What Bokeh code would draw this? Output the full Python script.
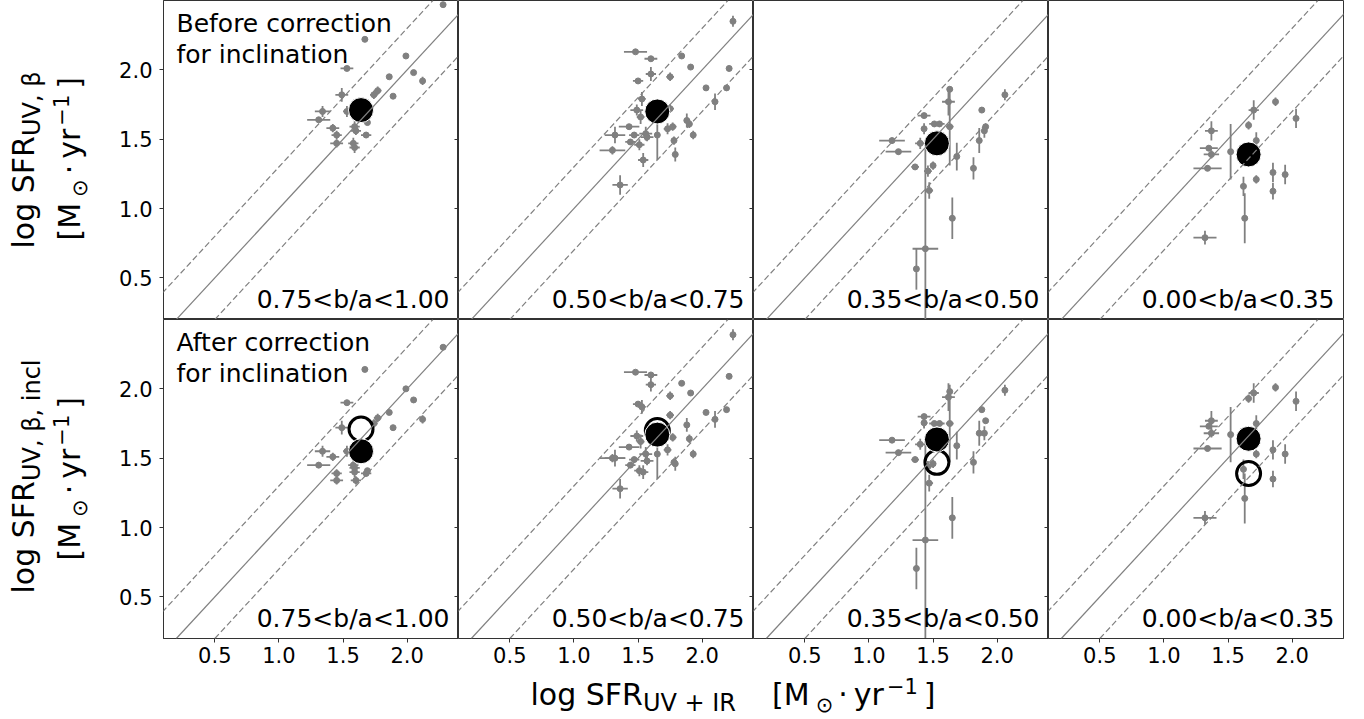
import math
from bokeh.plotting import figure
from bokeh.layouts import column, row
from bokeh.models import (ColumnDataSource, Slope, Label, FixedTicker, LinearAxis, Range1d,
                          PrintfTickFormatter)
from bokeh.embed import file_html
from bokeh.resources import INLINE

# ---------------- data ----------------
bin_labels = ["0.75<b/a<1.00", "0.50<b/a<0.75", "0.35<b/a<0.50", "0.00<b/a<0.35"]
x_ticks = [0.5, 1.0, 1.5, 2.0]
y_ticks = [0.5, 1.0, 1.5, 2.0]
scatter_offset = 0.3

# bin 1 : 0.75 < b/a < 1.00
x_b1 = [2.28, 1.67, 1.99, 1.53, 2.05, 1.86, 2.12, 1.49, 1.77, 1.74, 1.89, 1.34, 1.31, 1.53, 1.69, 1.42, 1.45, 1.59, 1.60, 1.68, 1.45, 1.58, 1.59]
yb_b1 = [2.47, 2.22, 2.10, 2.01, 1.98, 1.95, 1.92, 1.82, 1.85, 1.82, 1.81, 1.70, 1.64, 1.70, 1.62, 1.58, 1.53, 1.59, 1.56, 1.53, 1.47, 1.47, 1.44]
ya_b1 = [2.30, 2.14, 2.00, 1.90, 1.92, 1.83, 1.78, 1.72, 1.79, 1.75, 1.72, 1.55, 1.45, 1.55, 1.41, 1.51, 1.39, 1.43, 1.34, 1.39, 1.34, 1.45, 1.40]
xe_b1 = [0.01, 0.01, 0.01, 0.05, 0.01, 0.01, 0.02, 0.05, 0.03, 0.03, 0.01, 0.06, 0.09, 0.03, 0.02, 0.05, 0.04, 0.04, 0.04, 0.04, 0.05, 0.04, 0.04]
ye_b1 = [0.01, 0.01, 0.01, 0.01, 0.01, 0.01, 0.03, 0.05, 0.03, 0.03, 0.01, 0.04, 0.02, 0.04, 0.02, 0.03, 0.03, 0.04, 0.03, 0.02, 0.03, 0.04, 0.04]

# bin 2 : 0.50 < b/a < 0.75
x_b2 = [2.24, 1.48, 1.60, 1.84, 1.91, 1.60, 1.75, 1.50, 2.03, 2.21, 2.19, 2.10, 1.53, 1.49, 1.52, 1.75, 1.88, 1.90, 1.93, 1.43, 1.73, 1.77, 1.32, 1.47, 1.56, 1.44, 1.51, 1.57, 1.65, 1.78, 1.30, 1.54, 1.79, 1.36]
yb_b2 = [2.35, 2.13, 2.08, 2.10, 2.02, 1.97, 1.95, 1.92, 1.87, 2.01, 1.87, 1.77, 1.79, 1.71, 1.66, 1.72, 1.635, 1.61, 1.53, 1.59, 1.575, 1.59, 1.53, 1.53, 1.54, 1.48, 1.46, 1.515, 1.53, 1.49, 1.42, 1.35, 1.39, 1.17]
ya_b2 = [2.39, 2.12, 2.10, 2.04, 1.97, 2.03, 1.95, 1.89, 1.83, 2.09, 1.85, 1.78, 1.87, 1.66, 1.62, 1.81, 1.74, 1.64, 1.53, 1.58, 1.56, 1.65, 1.50, 1.49, 1.53, 1.45, 1.41, 1.48, 1.53, 1.47, 1.50, 1.40, 1.46, 1.28]
xe_b2 = [0.01, 0.09, 0.05, 0.01, 0.01, 0.04, 0.03, 0.04, 0.01, 0.01, 0.01, 0.01, 0.03, 0.05, 0.03, 0.03, 0.02, 0.02, 0.01, 0.08, 0.03, 0.03, 0.08, 0.04, 0.05, 0.04, 0.04, 0.05, 0.01, 0.02, 0.10, 0.04, 0.02, 0.06]
ye_b2 = [0.04, 0.01, 0.01, 0.01, 0.01, 0.05, 0.03, 0.01, 0.01, 0.02, 0.01, 0.06, 0.05, 0.04, 0.05, 0.03, 0.05, 0.03, 0.03, 0.01, 0.04, 0.03, 0.06, 0.02, 0.05, 0.02, 0.04, 0.03, 0.18, 0.03, 0.03, 0.05, 0.05, 0.07]

# bin 3 : 0.35 < b/a < 0.50
x_b3 = [1.18, 1.23, 1.63, 1.62, 2.06, 1.88, 1.43, 1.51, 1.55, 1.43, 1.63, 1.91, 1.90, 1.86, 1.40, 1.685, 1.50, 1.36, 1.46, 1.815, 1.47, 1.65, 1.44, 1.37]
yb_b3 = [1.49, 1.41, 1.86, 1.77, 1.82, 1.71, 1.67, 1.61, 1.61, 1.575, 1.59, 1.59, 1.56, 1.49, 1.47, 1.375, 1.31, 1.30, 1.27, 1.29, 1.13, 0.93, 0.71, 0.565]
ya_b3 = [1.63, 1.54, 1.98, 1.94, 1.99, 1.85, 1.80, 1.75, 1.75, 1.755, 1.75, 1.77, 1.68, 1.68, 1.60, 1.59, 1.46, 1.49, 1.44, 1.47, 1.32, 1.07, 0.91, 0.705]
xe_b3 = [0.10, 0.10, 0.02, 0.05, 0.01, 0.01, 0.05, 0.04, 0.04, 0.02, 0.03, 0.01, 0.01, 0.01, 0.04, 0.01, 0.02, 0.03, 0.03, 0.01, 0.03, 0.02, 0.10, 0.01]
ye_b3 = [0.02, 0.02, 0.02, 0.10, 0.04, 0.02, 0.01, 0.02, 0.02, 0.04, 0.28, 0.02, 0.05, 0.09, 0.04, 0.10, 0.03, 0.02, 0.04, 0.08, 0.06, 0.15, 0.72, 0.15]

# bin 4 : 0.00 < b/a < 0.35
x_b4 = [1.87, 2.03, 1.70, 1.66, 1.72, 1.37, 1.35, 1.37, 1.52, 1.34, 1.62, 1.72, 1.85, 1.945, 1.85, 1.63, 1.32]
yb_b4 = [1.77, 1.65, 1.71, 1.60, 1.49, 1.56, 1.435, 1.39, 1.41, 1.29, 1.16, 1.21, 1.26, 1.245, 1.125, 0.93, 0.79]
ya_b4 = [2.01, 1.91, 1.97, 1.93, 1.75, 1.77, 1.73, 1.68, 1.67, 1.57, 1.42, 1.53, 1.56, 1.53, 1.35, 1.21, 1.07]
xe_b4 = [0.01, 0.01, 0.04, 0.01, 0.01, 0.05, 0.07, 0.06, 0.01, 0.11, 0.02, 0.01, 0.01, 0.01, 0.01, 0.01, 0.09]
ye_b4 = [0.03, 0.07, 0.07, 0.03, 0.06, 0.07, 0.02, 0.03, 0.20, 0.02, 0.07, 0.03, 0.07, 0.07, 0.06, 0.18, 0.05]

# bin means
mean_x = [1.64, 1.65, 1.53, 1.66]
mean_y_before = [1.71, 1.70, 1.47, 1.39]
mean_y_after = [1.55, 1.67, 1.635, 1.64]

# ---------------- style / layout ----------------
GRAY = "#808080"
AX = "#333333"
FONT = "DejaVu Sans"
FRAME_W, FRAME_H = 295, 319
YTITLE_W, TICK_B, RIGHT_PAD, BOTTOM_B, TITLE_H = 100, 63, 20, 36, 45
GRID_H = FRAME_H * 2 + BOTTOM_B
BASE_K = 0.38   # anchor correction so that the alphabetic baseline lands where wanted

CW = {'l': .278, 'o': .612, 'g': .635, ' ': .318, 'S': .635, 'F': .575, 'R': .695, 'U': .732,
      'V': .684, ',': .318, 'β': .624, 'i': .278, 'n': .634, 'c': .550, '+': .838, 'I': .295,
      '[': .390, ']': .390, 'M': .863, '⊙': .838, '·': .318, 'y': .592, 'r': .411, '−': .838, '1': .636}


def twidth(s, size):
    return sum(CW.get(ch, 0.6) for ch in s) * size


def text_label(x, y, text, size, align="left", vertical=False):
    if vertical:
        return Label(x=x - BASE_K * size, y=y, x_units="screen", y_units="screen",
                     angle=math.pi / 2, text=text, text_font=FONT,
                     text_font_size=f"{size}px", text_align=align,
                     text_baseline="alphabetic", text_color="black")
    return Label(x=x, y=y + BASE_K * size, x_units="screen", y_units="screen",
                 text=text, text_font=FONT, text_font_size=f"{size}px",
                 text_align=align, text_baseline="alphabetic", text_color="black")


def add_pieces(p, pieces, sx0, sy0, vertical):
    pos = 0.0
    for txt, size, shift, pad in pieces:
        if vertical:
            p.add_layout(text_label(sx0 - shift, sy0 + pos, txt, size, vertical=True))
        else:
            p.add_layout(text_label(sx0 + pos, sy0 + shift, txt, size))
        pos += twidth(txt, size) + pad


unit_pieces = [("[M", 30, 0, 6), ("⊙", 21, -7, 5), ("·", 30, 0, 6), ("yr", 30, 0, 3),
               ("−1", 21, 12, 6), ("]", 30, 0, 0)]

bins = [
    (x_b1, yb_b1, ya_b1, xe_b1, ye_b1),
    (x_b2, yb_b2, ya_b2, xe_b2, ye_b2),
    (x_b3, yb_b3, ya_b3, xe_b3, ye_b3),
    (x_b4, yb_b4, ya_b4, xe_b4, ye_b4),
]


def blank_fig(w, h):
    f = figure(width=w, height=h, x_range=Range1d(0, 1), y_range=Range1d(0, 1),
               output_backend="svg", toolbar_location=None,
               x_axis_location=None, y_axis_location=None,
               min_border_left=0, min_border_right=0, min_border_top=0, min_border_bottom=0)
    f.xgrid.visible = False
    f.ygrid.visible = False
    f.outline_line_color = None
    f.background_fill_color = "white"
    f.border_fill_color = "white"
    return f


def make_panel(r, c):
    xs, yb, ya, xe, ye = bins[c]
    ys = yb if r == 0 else ya
    w = FRAME_W + (TICK_B if c == 0 else 0) + (RIGHT_PAD if c == 3 else 0)
    h = FRAME_H + (BOTTOM_B if r == 1 else 0)
    p = figure(width=w, height=h, x_range=Range1d(0.1, 2.4), y_range=Range1d(0.2, 2.5),
               output_backend="svg", toolbar_location=None,
               x_axis_location="below" if r == 1 else None,
               y_axis_location="left" if c == 0 else None,
               min_border_left=TICK_B if c == 0 else 0,
               min_border_right=RIGHT_PAD if c == 3 else 0,
               min_border_top=0, min_border_bottom=BOTTOM_B if r == 1 else 0)
    p.xgrid.visible = False
    p.ygrid.visible = False
    p.outline_line_color = AX
    p.outline_line_width = 1
    p.background_fill_color = "white"
    p.border_fill_color = "white"

    if r == 1:
        ax = p.xaxis[0]
        ax.ticker = FixedTicker(ticks=x_ticks)
        ax.formatter = PrintfTickFormatter(format="%.1f")
        ax.major_tick_out = 4
        ax.major_tick_in = 0
        ax.minor_tick_out = 0
        ax.minor_tick_in = 0
        ax.major_label_standoff = 4
        ax.major_label_text_font = FONT
        ax.major_label_text_font_size = "21px"
        ax.major_label_text_color = "black"
        ax.axis_line_color = AX
        ax.major_tick_line_color = AX
    if c == 0:
        ay = p.yaxis[0]
        ay.ticker = FixedTicker(ticks=y_ticks)
        ay.formatter = PrintfTickFormatter(format="%.1f")
        ay.major_tick_out = 4
        ay.major_tick_in = 0
        ay.minor_tick_out = 0
        ay.minor_tick_in = 0
        ay.major_label_standoff = 7
        ay.major_label_text_font = FONT
        ay.major_label_text_font_size = "21px"
        ay.major_label_text_color = "black"
        ay.axis_line_color = AX
        ay.major_tick_line_color = AX
    if c < 3:
        # ticks of the neighbouring panel's left spine, pointing into this panel
        rax = LinearAxis(ticker=FixedTicker(ticks=y_ticks), major_tick_in=4, major_tick_out=0,
                         minor_tick_in=0, minor_tick_out=0, major_label_text_font_size="0px",
                         major_label_text_color=None, major_label_standoff=0,
                         axis_line_color=None, major_tick_line_color=AX)
        p.add_layout(rax, "right")

    # one-to-one line and +-offset lines
    p.add_layout(Slope(gradient=1, y_intercept=0, line_color=GRAY, line_width=1.2))
    p.add_layout(Slope(gradient=1, y_intercept=scatter_offset, line_color=GRAY, line_width=1.2, line_dash="6 3"))
    p.add_layout(Slope(gradient=1, y_intercept=-scatter_offset, line_color=GRAY, line_width=1.2, line_dash="6 3"))

    src = ColumnDataSource(dict(
        x=xs, y=ys,
        xl=[a - b for a, b in zip(xs, xe)], xr=[a + b for a, b in zip(xs, xe)],
        yl=[a - b for a, b in zip(ys, ye)], yu=[a + b for a, b in zip(ys, ye)]))
    p.segment(x0="xl", y0="y", x1="xr", y1="y", source=src, line_color=GRAY, line_width=1.8)
    p.segment(x0="x", y0="yl", x1="x", y1="yu", source=src, line_color=GRAY, line_width=1.8)
    p.scatter("x", "y", source=src, size=6, fill_color=GRAY, line_color=GRAY)

    if r == 1:
        p.scatter([mean_x[c]], [mean_y_before[c]], size=24, fill_color=None,
                  line_color="black", line_width=3)
        p.scatter([mean_x[c]], [mean_y_after[c]], size=25, fill_color="black",
                  line_color="white", line_width=1)
    else:
        p.scatter([mean_x[c]], [mean_y_before[c]], size=25, fill_color="black",
                  line_color="white", line_width=1)

    p.add_layout(text_label(FRAME_W - 9, 11, bin_labels[c], 25, align="right"))

    if c == 0:
        first = "Before correction" if r == 0 else "After correction"
        p.add_layout(text_label(13, FRAME_H - 32.3, first, 25))
        p.add_layout(text_label(13, FRAME_H - 63.3, "for inclination", 25))
    return p


top = [make_panel(0, c) for c in range(4)]
bottom = [make_panel(1, c) for c in range(4)]

# y-axis titles (rotated), in their own strip to the left of the panels
yfig = blank_fig(YTITLE_W, GRID_H)
add_pieces(yfig, [("log SFR", 30, 0, 0), ("UV, β", 24, -7, 0)], 34, GRID_H - 248, True)
add_pieces(yfig, unit_pieces, 80, GRID_H - 240, True)
add_pieces(yfig, [("log SFR", 30, 0, 0), ("UV, β, incl", 24, -7, 0)], 34, GRID_H - 593, True)
add_pieces(yfig, unit_pieces, 80, GRID_H - 560, True)

# x-axis title strip
xfig = blank_fig(YTITLE_W + TICK_B + 4 * FRAME_W + RIGHT_PAD, TITLE_H)
xtitle = [("log SFR", 30, 0, 0), ("UV + IR", 24, -7, 36)] + unit_pieces
add_pieces(xfig, xtitle, 530, TITLE_H - 31, False)

grid = column(row(*top), row(*bottom))
layout = column(row(yfig, grid), xfig)
open("out.html", "w").write(file_html(layout, INLINE))
